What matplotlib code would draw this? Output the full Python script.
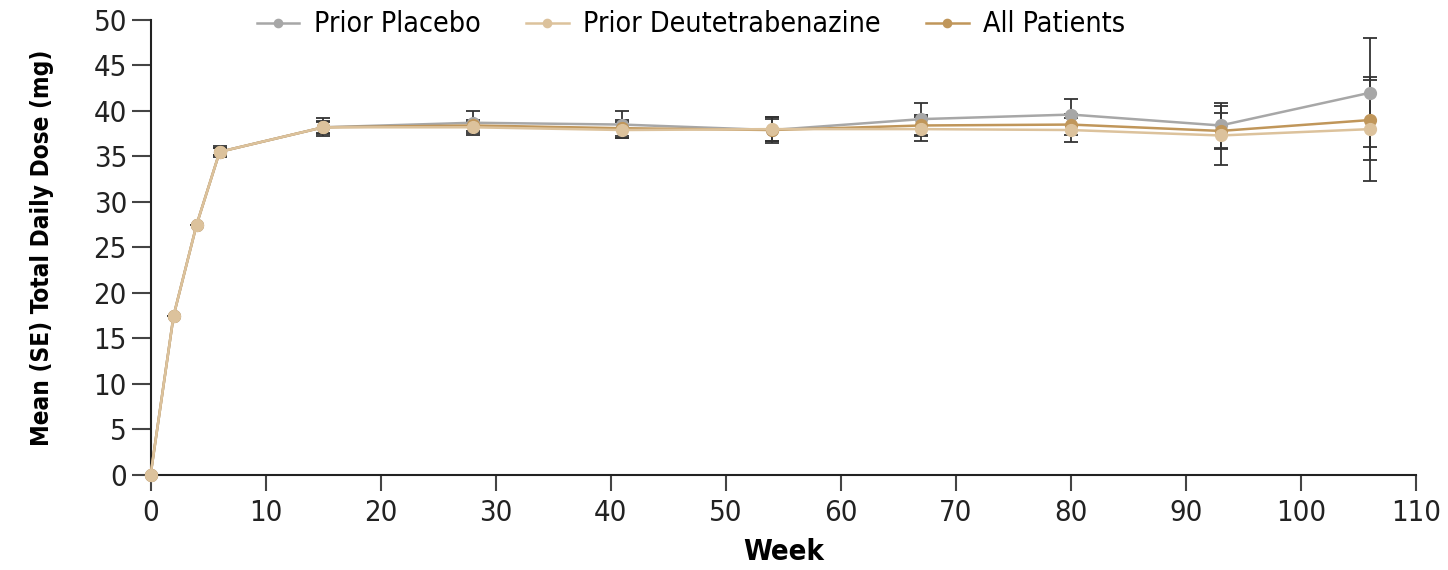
# Mean (SE) total daily dose by week, three patient groups

import numpy as np
import matplotlib.pyplot as plt

weeks = [0, 2, 4, 6, 15, 28, 41, 54, 67, 80, 93, 106]

placebo = [0, 17.5, 27.5, 35.5, 38.2, 38.7, 38.5, 37.9, 39.1, 39.6, 38.4, 42.0]
placebo_se = [0, 0, 0, 0.6, 1.0, 1.3, 1.5, 1.4, 1.8, 1.7, 2.5, 6.0]

deut = [0, 17.5, 27.5, 35.5, 38.2, 38.2, 37.9, 38.0, 38.0, 37.9, 37.3, 38.0]
deut_se = [0, 0, 0, 0.4, 0.7, 0.6, 0.9, 1.3, 1.3, 1.3, 3.2, 5.7]

all_pts = [0, 17.5, 27.5, 35.5, 38.2, 38.4, 38.1, 37.9, 38.4, 38.5, 37.8, 39.0]
all_se = [0, 0, 0, 0.4, 0.6, 0.6, 0.9, 1.2, 1.2, 1.2, 2.0, 4.4]

plt.rcParams['font.family'] = ['DejaVu Sans']
plt.rcParams['font.stretch'] = 'condensed'

fig = plt.figure(figsize=(14.48, 5.7), dpi=100)
ax = fig.add_axes([0.104, 0.167, 0.874, 0.798])

series = [
    ('Prior Placebo', placebo, placebo_se, '#a7a7a7', 2),
    ('Prior Deutetrabenazine', deut, deut_se, '#dcc29c', 4),
    ('All Patients', all_pts, all_se, '#c0965a', 3),
]

for label, vals, se, color, z in series:
    ax.errorbar(weeks, vals, yerr=se, fmt='none', ecolor='#333333',
                elinewidth=1.3, capsize=5, capthick=1.3, zorder=1, clip_on=False)
    ax.plot(weeks, vals, '-o', color=color, lw=1.8, ms=8.5, label=label,
            zorder=z, clip_on=False)

ax.set_xlim(0, 110)
ax.set_ylim(0, 50)
ax.set_xticks(np.arange(0, 111, 10))
ax.set_yticks(np.arange(0, 51, 5))

for s in ['top', 'right']:
    ax.spines[s].set_visible(False)
for s in ['left', 'bottom']:
    ax.spines[s].set_linewidth(1.5)
    ax.spines[s].set_color('#222222')

ax.tick_params(axis='both', direction='out', width=1.5, labelsize=21,
               color='#444444', labelcolor='#222222')
ax.tick_params(axis='x', length=11.5, pad=6)
ax.tick_params(axis='y', length=14, pad=3)

ax.set_xlabel('Week', fontsize=21, fontweight='bold')
ax.xaxis.set_label_coords(0.5, -0.14)
ax.set_ylabel('Mean (SE) Total Daily Dose (mg)', fontsize=17.5,
              fontweight='bold')
ax.yaxis.set_label_coords(-0.076, 0.5)

ax.legend(loc='center', bbox_to_anchor=(0.427, 0.99), ncol=3,
          frameon=False, fontsize=20.5, handlelength=1.5, columnspacing=1.6,
          handletextpad=0.5, markerscale=0.7)

fig.savefig('out.png', dpi=100)
